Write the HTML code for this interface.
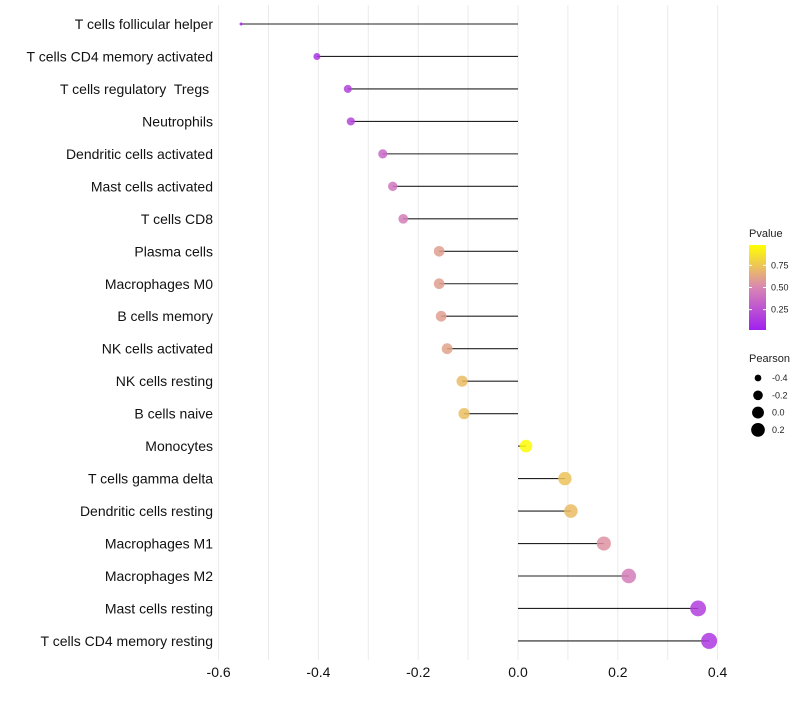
<!DOCTYPE html>
<html><head><meta charset="utf-8"><style>
body{margin:0;background:#fff;font-family:"Liberation Sans",sans-serif}
text{white-space:pre}
</style></head><body>
<svg id="chart" width="800" height="700" xmlns="http://www.w3.org/2000/svg" font-family="Liberation Sans, sans-serif"></svg>
<script>
const categories=["T cells follicular helper","T cells CD4 memory activated","T cells regulatory  Tregs ","Neutrophils","Dendritic cells activated","Mast cells activated","T cells CD8","Plasma cells","Macrophages M0","B cells memory","NK cells activated","NK cells resting","B cells naive","Monocytes","T cells gamma delta","Dendritic cells resting","Macrophages M1","Macrophages M2","Mast cells resting","T cells CD4 memory resting"];
const pearson=[-0.555,-0.403,-0.341,-0.335,-0.271,-0.251,-0.230,-0.158,-0.158,-0.154,-0.142,-0.112,-0.108,0.016,0.094,0.106,0.172,0.222,0.361,0.383];
const pvalues=[0.02,0.10,0.17,0.18,0.35,0.42,0.45,0.60,0.60,0.60,0.62,0.72,0.73,0.98,0.75,0.72,0.55,0.45,0.15,0.12];
const xTicks=[-0.6,-0.4,-0.2,0.0,0.2,0.4];
const legendP=[0.25,0.50,0.75];
const legendSizes=[-0.4,-0.2,0.0,0.2];

const svg=document.getElementById('chart');
const NS="http://www.w3.org/2000/svg";
function el(t,a,p){const e=document.createElementNS(NS,t);for(const k in a)e.setAttribute(k,a[k]);(p||svg).appendChild(e);return e;}
const x=v=>518+v*499;
const y=i=>24+i*32.47;
const r=v=>Math.sqrt(Math.max(2.25,2.25+(v+0.555)/0.938*61.75));
function lerp(a,b,t){return a.map((c,i)=>Math.round(c+(b[i]-c)*t));}
function color(p){const s=[[160,32,240],[217,134,179],[255,255,0]];let c=p<0.5?lerp(s[0],s[1],p/0.5):lerp(s[1],s[2],(p-0.5)/0.5);return `rgb(${c})`;}

for(let v=-0.6;v<=0.401;v+=0.1){
  const g=el('line',{x1:x(v),x2:x(v),y1:5,y2:660,stroke:'#ebebeb','stroke-width':1});
  
  
}
xTicks.forEach(t=>{
  const tx=el('text',{x:x(t),y:677,'text-anchor':'middle','font-size':14,fill:'#111'});
  tx.textContent=t.toFixed(1);
  
  
});
categories.forEach((c,i)=>{
  const tx=el('text',{x:213,y:y(i)+5,'text-anchor':'end','font-size':14,fill:'#111'});
  tx.textContent=c;
  
  
  const ln=el('line',{x1:x(0),x2:x(pearson[i]),y1:y(i),y2:y(i),stroke:'#222','stroke-width':1.1});
  
  
  const pt=el('circle',{cx:x(pearson[i]),cy:y(i),r:r(pearson[i]),fill:color(pvalues[i]),'fill-opacity':0.85});
  
  
});
const defs=el('defs',{});
const lg=el('linearGradient',{id:'pg',x1:0,y1:1,x2:0,y2:0},defs);
[0,0.25,0.5,0.75,1].forEach(o=>el('stop',{offset:o,'stop-color':color(o)},lg));
const lt=el('text',{x:749,y:237,'font-size':11,fill:'#222'});lt.textContent='Pvalue';


const bar=el('rect',{x:749,y:245,width:17,height:85,fill:'url(#pg)'});


legendP.forEach(p=>{
  const yy=330-(p-0.02)/0.96*85;
  el('line',{x1:749,x2:752,y1:yy,y2:yy,stroke:'#fff'});
  el('line',{x1:763,x2:766,y1:yy,y2:yy,stroke:'#fff'});
  const t=el('text',{x:771,y:yy+3,'font-size':9,fill:'#222'});t.textContent=p.toFixed(2);
  
  
});
const st=el('text',{x:749,y:362,'font-size':11,fill:'#222'});st.textContent='Pearson';


legendSizes.forEach((s,i)=>{
  const yy=378+i*17.3;
  const c=el('circle',{cx:758,cy:yy,r:r(s)*0.95,fill:'#000'});
  
  
  const t=el('text',{x:772,y:yy+3,'font-size':9,fill:'#222'});t.textContent=s.toFixed(1);
  
  
});
</script>
</body></html>
